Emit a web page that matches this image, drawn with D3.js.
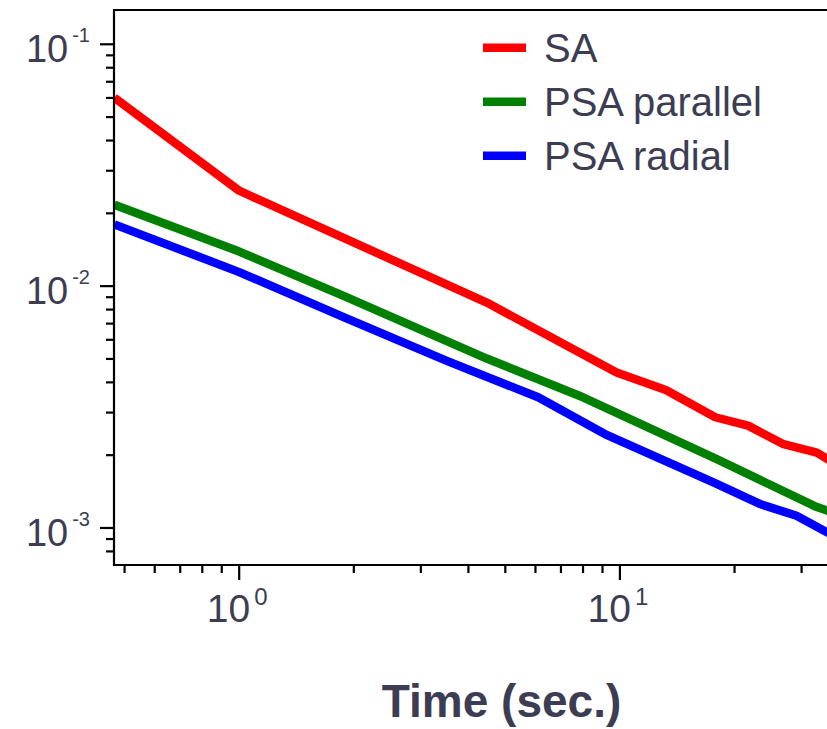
<!DOCTYPE html>
<html>
<head>
<meta charset="utf-8">
<script src="https://cdn.jsdelivr.net/npm/d3@7"></script>
<style>
  html, body { margin: 0; padding: 0; background: #ffffff; overflow: hidden; }
  text { font-family: "Liberation Sans", Arial, Helvetica, sans-serif; }
</style>
</head>
<body>
<svg id="chart" width="827" height="729"></svg>
<script>
// ---- data -------------------------------------------------------------
const seriesNames  = ["SA", "PSA parallel", "PSA radial"];
const seriesColors = ["#ff0000", "#008000", "#0000ff"];

// SA
const saTime  = [0.47, 1.0, 4.47, 9.8, 13.2, 17.8, 21.7, 26.9, 32.9, 40];
const saValue = [0.0602, 0.0248, 0.00855, 0.00439, 0.00372, 0.00287, 0.00265, 0.00222, 0.00205, 0.0017];

// PSA parallel
const parTime  = [0.47, 1.0, 1.88, 4.47, 8.0, 17.9, 32.9, 35, 40];
const parValue = [0.0217, 0.0139, 0.00912, 0.00502, 0.00347, 0.00193, 0.00122, 0.00118, 0.00112];

// PSA radial
const radTime  = [0.47, 1.0, 1.88, 3.51, 6.1, 9.13, 17.6, 23.3, 29.1, 35, 40];
const radValue = [0.0180, 0.01143, 0.00744, 0.00491, 0.00347, 0.002445, 0.001544, 0.001257, 0.001124, 0.00096, 0.00087];

const xMajorTicks = [1, 10];
const yMajorTicks = [0.001, 0.01, 0.1];
const xDomain = [0.469, 50.9];
const yDomain = [7.03e-4, 0.1386];
const xTitle = "Time (sec.)";

// ---- layout -----------------------------------------------------------
const plot = { left: 114, right: 889, top: 10, bottom: 565 };
const textColor = "#3c3d52";

const svg = d3.select("#chart");

const x = d3.scaleLog().domain(xDomain).range([plot.left, plot.right]);
const y = d3.scaleLog().domain(yDomain).range([plot.bottom, plot.top]);

svg.append("defs").append("clipPath").attr("id", "plot-clip")
  .append("rect")
  .attr("x", plot.left).attr("y", plot.top)
  .attr("width", plot.right - plot.left).attr("height", plot.bottom - plot.top);

// ---- series lines -----------------------------------------------------
const series = [
  { name: seriesNames[0], color: seriesColors[0], pts: d3.zip(saTime, saValue) },
  { name: seriesNames[1], color: seriesColors[1], pts: d3.zip(parTime, parValue) },
  { name: seriesNames[2], color: seriesColors[2], pts: d3.zip(radTime, radValue) }
];

const line = d3.line().x(d => x(d[0])).y(d => y(d[1]));

svg.append("g").attr("clip-path", "url(#plot-clip)")
  .selectAll("path").data(series).join("path")
  .attr("d", d => line(d.pts))
  .attr("fill", "none")
  .attr("stroke", d => d.color)
  .attr("stroke-width", 8.5)
  .attr("stroke-linejoin", "round")
  .attr("stroke-linecap", "butt");

// ---- axes -------------------------------------------------------------
const isMajor = v => Math.abs(Math.log10(v) - Math.round(Math.log10(v))) < 1e-9;

const yAxis = d3.axisLeft(y).tickValues(y.ticks()).tickFormat("").tickSizeOuter(0).offset(0);
const yg = svg.append("g").attr("transform", `translate(${plot.left},0)`).call(yAxis);
yg.select(".domain").remove();
yg.selectAll(".tick line")
  .attr("x2", d => isMajor(d) ? -14 : -8)
  .attr("stroke", "#000").attr("stroke-width", 2.2);

const xAxis = d3.axisBottom(x).tickValues(x.ticks()).tickFormat("").tickSizeOuter(0).offset(0);
const xg = svg.append("g").attr("transform", `translate(0,${plot.bottom})`).call(xAxis);
xg.select(".domain").remove();
xg.selectAll(".tick line")
  .attr("y2", d => isMajor(d) ? 15 : 8)
  .attr("stroke", "#000").attr("stroke-width", 2.2);

// spines
const spines = svg.append("g").attr("stroke", "#000").attr("stroke-width", 2.2).attr("fill", "none");
spines.append("line").attr("x1", plot.left).attr("x2", plot.left).attr("y1", plot.top - 1).attr("y2", plot.bottom + 1);
spines.append("line").attr("x1", plot.left - 1).attr("x2", plot.right).attr("y1", plot.bottom).attr("y2", plot.bottom);
spines.append("line").attr("x1", plot.left - 1).attr("x2", plot.right).attr("y1", plot.top).attr("y2", plot.top);
spines.append("line").attr("x1", plot.right).attr("x2", plot.right).attr("y1", plot.top).attr("y2", plot.bottom);

// tick labels as 10 with superscript exponent
const yLabels = svg.append("g").attr("fill", textColor);
yMajorTicks.forEach(v => {
  const t = yLabels.append("text")
    .attr("x", 90).attr("y", y(v) + 17.7)
    .attr("text-anchor", "end").attr("font-size", 38);
  t.append("tspan").text("10");
  t.append("tspan").attr("font-size", 20).attr("dx", 4).attr("dy", -20)
    .text(String(Math.round(Math.log10(v))));
});

const xLabels = svg.append("g").attr("fill", textColor);
xMajorTicks.forEach(v => {
  const t = xLabels.append("text")
    .attr("x", x(v) - 2).attr("y", 622)
    .attr("text-anchor", "middle").attr("font-size", 39);
  t.append("tspan").text("10");
  t.append("tspan").attr("font-size", 24).attr("dx", 4).attr("dy", -17)
    .text(String(Math.round(Math.log10(v))));
});

// axis title
svg.append("text")
  .attr("x", (plot.left + plot.right) / 2).attr("y", 717)
  .attr("text-anchor", "middle")
  .attr("font-size", 46).attr("font-weight", "bold")
  .attr("fill", textColor)
  .text(xTitle);

// ---- legend -----------------------------------------------------------
const legend = svg.append("g");
const items = legend.selectAll("g").data(series).join("g")
  .attr("transform", (d, i) => `translate(483,${47.7 + i * 54})`);
items.append("line")
  .attr("x1", 0).attr("x2", 43).attr("y1", 0).attr("y2", 0)
  .attr("stroke", d => d.color).attr("stroke-width", 8.5);
items.append("text")
  .attr("x", 61).attr("y", 14.5)
  .attr("font-size", 40).attr("fill", textColor)
  .text(d => d.name);
</script>
</body>
</html>
